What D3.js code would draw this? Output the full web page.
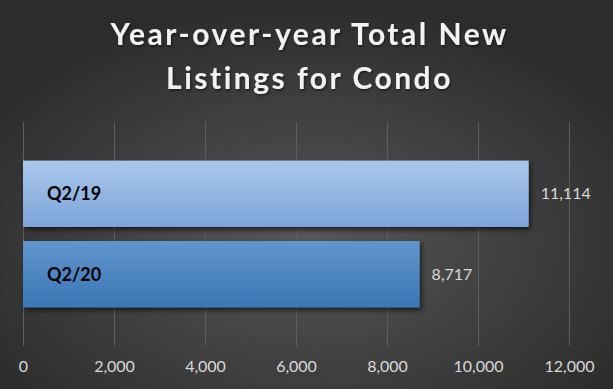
<!DOCTYPE html>
<html>
<head>
<meta charset="utf-8">
<script src="https://cdn.jsdelivr.net/npm/d3@7"></script>
<style>
  body { margin: 0; background: #333; }
  svg { display: block; font-family: Lato, "Open Sans", sans-serif; }
</style>
</head>
<body>
<svg width="613" height="389"></svg>
<script>
// data
const categories = ["Q2/19", "Q2/20"];
const values = [11114, 8717];
const xTicks = [0, 2000, 4000, 6000, 8000, 10000, 12000];
const titleLines = ["Year-over-year Total New", "Listings for Condo"];

const svg = d3.select("svg");
const width = +svg.attr("width");
const height = +svg.attr("height");

const margin = { top: 122, right: 44, bottom: 43, left: 23 };
const innerWidth = width - margin.left - margin.right;
const innerHeight = height - margin.top - margin.bottom;

const defs = svg.append("defs");

// background
const bg = defs.append("radialGradient")
  .attr("id", "bg")
  .attr("cx", "50%").attr("cy", "62%").attr("r", "62%");
bg.append("stop").attr("offset", "0%").attr("stop-color", "#575757");
bg.append("stop").attr("offset", "100%").attr("stop-color", "#2c2c2c");

const barColors = [
  ["#a9c7ec", "#7da4d6"],
  ["#6196cd", "#3a77b6"]
];
barColors.forEach((c, i) => {
  const g = defs.append("linearGradient")
    .attr("id", "bar" + i)
    .attr("x1", 0).attr("y1", 0).attr("x2", 0).attr("y2", 1);
  g.append("stop").attr("offset", "0%").attr("stop-color", c[0]);
  g.append("stop").attr("offset", "100%").attr("stop-color", c[1]);
});

defs.append("filter")
  .attr("id", "shadow")
  .attr("x", "-10%").attr("y", "-20%").attr("width", "130%").attr("height", "150%")
  .append("feDropShadow")
  .attr("dx", 2).attr("dy", 3).attr("stdDeviation", 2.5)
  .attr("flood-color", "#000").attr("flood-opacity", 0.6);

defs.append("filter")
  .attr("id", "tshadow")
  .append("feDropShadow")
  .attr("dx", 1).attr("dy", 1.5).attr("stdDeviation", 1)
  .attr("flood-color", "#000").attr("flood-opacity", 0.5);

svg.append("rect")
  .attr("width", width).attr("height", height)
  .attr("fill", "url(#bg)");

// title
svg.append("g")
  .selectAll("text")
  .data(titleLines)
  .join("text")
  .attr("x", width / 2 + 3)
  .attr("y", (d, i) => 45 + i * 44)
  .attr("text-anchor", "middle")
  .attr("fill", "#f2f2f2")
  .attr("font-weight", "bold")
  .attr("font-size", 30)
  .attr("letter-spacing", 2.5)
  .attr("filter", "url(#tshadow)")
  .text(d => d);

const g = svg.append("g")
  .attr("transform", `translate(${margin.left},${margin.top})`);

const xScale = d3.scaleLinear()
  .domain([0, 12000])
  .range([0, innerWidth]);

const yScale = d3.scaleBand()
  .domain(categories)
  .range([0, innerHeight])
  .paddingInner(0.175)
  .paddingOuter(0.48);

const xAxis = d3.axisBottom(xScale)
  .tickValues(xTicks)
  .tickFormat(d3.format(","))
  .tickSize(-innerHeight)
  .tickPadding(15);

const xAxisG = g.append("g")
  .attr("transform", `translate(0,${innerHeight})`)
  .call(xAxis);

xAxisG.select(".domain").remove();
xAxisG.selectAll(".tick line")
  .attr("stroke", "#5e5e5e");
xAxisG.selectAll(".tick text")
  .attr("fill", "#d9d9d9")
  .attr("font-size", 16)
  .attr("font-family", "Lato, sans-serif");

// bars
g.selectAll(".bar")
  .data(values)
  .join("rect")
  .attr("class", "bar")
  .attr("x", 0)
  .attr("y", (d, i) => yScale(categories[i]))
  .attr("width", d => xScale(d))
  .attr("height", yScale.bandwidth())
  .attr("fill", (d, i) => `url(#bar${i})`)
  .attr("filter", "url(#shadow)");

// category labels inside bars
g.selectAll(".cat")
  .data(categories)
  .join("text")
  .attr("class", "cat")
  .attr("x", 24)
  .attr("y", d => yScale(d) + yScale.bandwidth() / 2)
  .attr("dy", "0.35em")
  .attr("fill", "#000")
  .attr("font-weight", "bold")
  .attr("font-size", 18)
  .text(d => d);

// value labels
g.selectAll(".val")
  .data(values)
  .join("text")
  .attr("class", "val")
  .attr("x", d => xScale(d) + 12)
  .attr("y", (d, i) => yScale(categories[i]) + yScale.bandwidth() / 2)
  .attr("dy", "0.35em")
  .attr("fill", "#d9d9d9")
  .attr("font-size", 16)
  .text(d => d3.format(",")(d));
</script>
</body>
</html>
